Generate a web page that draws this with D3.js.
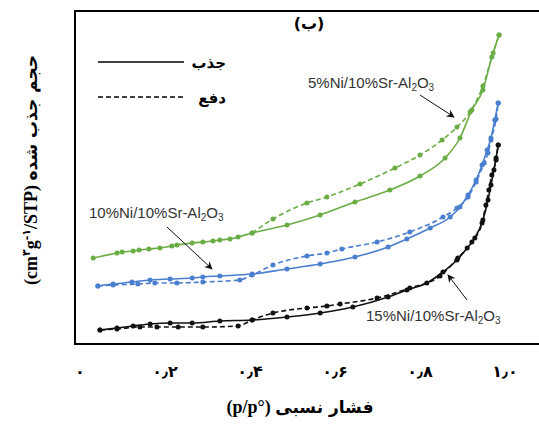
<!DOCTYPE html>
<html><head><meta charset="utf-8">
<script src="https://cdn.jsdelivr.net/npm/d3@7/dist/d3.min.js"></script>
<style>body{margin:0;background:#fff}</style>
</head><body>
<script>
// relative pressure p/p0 and adsorbed volume (arbitrary units)
const greenAdsX=[0.031,0.087,0.099,0.125,0.139,0.162,0.188,0.216,0.228,0.264,0.289,0.313,0.329,0.353,0.372,0.405,0.487,0.565,0.647,0.729,0.800,0.859,0.894,0.922,0.948,0.969,0.986];
const greenAdsY=[86,91,92,93,94,95,96,98,99,101,102,103,104,105,107,111,119,129,142,154,168,186,206,234,254,287,309];
const greenDesX=[0.405,0.454,0.534,0.581,0.659,0.741,0.800,0.852,0.887,0.918,0.948,0.972,0.986];
const greenDesY=[111,125,141,147,160,176,189,204,217,232,258,291,309];

const blueAdsX=[0.042,0.078,0.122,0.165,0.212,0.264,0.289,0.329,0.405,0.487,0.565,0.647,0.725,0.769,0.824,0.871,0.894,0.913,0.932,0.946,0.958,0.967,0.976,0.984];
const blueAdsY=[58,60,62,64,65,66,67,68,70,75,80,87,97,105,116,127,137,149,164,179,194,206,224,241];
const blueDesX=[0.042,0.078,0.136,0.176,0.228,0.289,0.376,0.405,0.454,0.534,0.581,0.616,0.699,0.776,0.854,0.887,0.913,0.932,0.951,0.960,0.967,0.979,0.984];
const blueDesY=[58,59,60,61,61,62,64,69,79,88,91,95,102,112,127,136,147,162,181,191,204,225,241];

const blackAdsX=[0.047,0.087,0.125,0.165,0.212,0.264,0.329,0.405,0.487,0.565,0.642,0.725,0.769,0.816,0.854,0.887,0.911,0.929,0.948,0.960,0.967,0.974,0.979,0.984];
const blackAdsY=[14,16,18,20,21,21,23,24,27,31,37,47,54,61,72,84,96,106,124,144,159,174,186,199];
const blackDesX=[0.047,0.087,0.141,0.181,0.231,0.289,0.372,0.405,0.454,0.534,0.581,0.612,0.699,0.776,0.847,0.889,0.922,0.946,0.955,0.962,0.969,0.979,0.984];
const blackDesY=[14,15,17,17,17,17,18,24,31,36,38,40,46,56,68,86,102,121,139,154,169,184,199];

const xTicks=[0,0.2,0.4,0.6,0.8,1.0];
const xTickLabels=["۰","۰٫۲","۰٫۴","۰٫۶","۰٫۸","۱٫۰"];

const W=539,H=425;
const svg=d3.select("body").append("svg").attr("width",W).attr("height",H);
const x=d3.scaleLinear().domain([0,1]).range([80,505]);
const y=d3.scaleLinear().domain([0,333]).range([344,11]);

// frame
svg.append("rect").attr("x",75).attr("y",11).attr("width",470).attr("height",333)
  .attr("fill","none").attr("stroke","#000").attr("stroke-width",2);

const series=[
 {xs:greenAdsX,ys:greenAdsY,c:"#6aad45",dash:null},
 {xs:greenDesX,ys:greenDesY,c:"#6aad45",dash:"5,3"},
 {xs:blueAdsX,ys:blueAdsY,c:"#4a7fcf",dash:null},
 {xs:blueDesX,ys:blueDesY,c:"#4a7fcf",dash:"5,3"},
 {xs:blackAdsX,ys:blackAdsY,c:"#111",dash:null},
 {xs:blackDesX,ys:blackDesY,c:"#111",dash:"5,3"}
];
const line=d3.line().x(d=>x(d[0])).y(d=>y(d[1])).curve(d3.curveMonotoneX);
series.forEach(s=>{
  const pts=s.xs.map((v,i)=>[v,s.ys[i]]);
  svg.append("path").datum(pts).attr("d",line).attr("fill","none")
    .attr("stroke",s.c).attr("stroke-width",1.6).attr("stroke-dasharray",s.dash);
  svg.selectAll(null).data(pts).enter().append("circle")
    .attr("cx",d=>x(d[0])).attr("cy",d=>y(d[1])).attr("r",2.5).attr("fill",s.c);
});

// x tick labels
const fa="'DejaVu Sans', 'Liberation Serif', serif";
svg.selectAll(null).data(xTicks).enter().append("text")
  .attr("x",d=>x(d)).attr("y",377).attr("text-anchor","middle")
  .attr("font-family",fa).attr("font-weight","bold").attr("font-size",16)
  .text((d,i)=>xTickLabels[i]);

// x axis title
const xt=svg.append("text").attr("x",300).attr("y",413).attr("text-anchor","middle")
  .attr("font-weight","bold").attr("font-size",18);
xt.append("tspan").attr("font-family","'Liberation Serif', serif").text("(p/p°) ");
xt.append("tspan").attr("font-family",fa).attr("font-size",17).text("فشار نسبی");

// y axis title
const yt=svg.append("text").attr("transform","translate(37,170) rotate(-90)")
  .attr("text-anchor","middle").attr("font-weight","bold").attr("font-size",18);
yt.append("tspan").attr("font-family","'Liberation Serif', serif").text("(cm");
yt.append("tspan").attr("font-family",fa).attr("font-size",11).attr("dy",-7).text("۳");
yt.append("tspan").attr("font-family","'Liberation Serif', serif").attr("dy",7).text("g");
yt.append("tspan").attr("font-family",fa).attr("font-size",11).attr("dy",-7).text("-۱");
yt.append("tspan").attr("font-family","'Liberation Serif', serif").attr("dy",7).text("/STP) ");
yt.append("tspan").attr("font-family",fa).attr("font-size",17).text("حجم جذب شده");

// panel label
svg.append("text").attr("x",309).attr("y",29).attr("text-anchor","middle")
  .attr("font-family",fa).attr("font-weight","bold").attr("font-size",16).text("(ب)");

// legend
svg.append("line").attr("x1",98).attr("x2",184).attr("y1",62).attr("y2",62).attr("stroke","#000").attr("stroke-width",1.3);
svg.append("line").attr("x1",98).attr("x2",184).attr("y1",97).attr("y2",97).attr("stroke","#000").attr("stroke-width",1.3).attr("stroke-dasharray","5,3");
svg.append("text").attr("x",226).attr("y",68).attr("text-anchor","end").attr("font-family",fa).attr("font-weight","bold").attr("font-size",15).text("جذب");
svg.append("text").attr("x",226).attr("y",103).attr("text-anchor","end").attr("font-family",fa).attr("font-weight","bold").attr("font-size",15).text("دفع");

// annotations
function label(tx,ty,parts){
  const t=svg.append("text").attr("x",tx).attr("y",ty).attr("font-family","'Liberation Sans', Arial, sans-serif")
    .attr("font-size",15).attr("fill","#333");
  parts.forEach(p=>{
    t.append("tspan").attr("dy",p.dy||0).attr("font-size",p.fs||15).text(p.t);
  });
}
const sample=(pre)=>[{t:pre+"Ni/10%Sr-Al"},{t:"2",dy:3,fs:10},{t:"O",dy:-3},{t:"3",dy:3,fs:10}];
label(308,88,sample("5%"));
label(89,218,sample("10%"));
label(366,321,sample("15%"));

svg.append("defs").append("marker").attr("id","ah").attr("viewBox","0 0 10 10").attr("refX",9).attr("refY",5)
  .attr("markerWidth",8).attr("markerHeight",8).attr("orient","auto")
  .append("path").attr("d","M0,0 L10,5 L0,10 L3,5 z").attr("fill","#111");
function arrow(x1,y1,x2,y2){
  svg.append("line").attr("x1",x1).attr("y1",y1).attr("x2",x2).attr("y2",y2)
    .attr("stroke","#111").attr("stroke-width",1).attr("marker-end","url(#ah)");
}
arrow(420,95,454,117);
arrow(167,227,212,269);
arrow(467,300,448,275);
</script>
</body></html>
